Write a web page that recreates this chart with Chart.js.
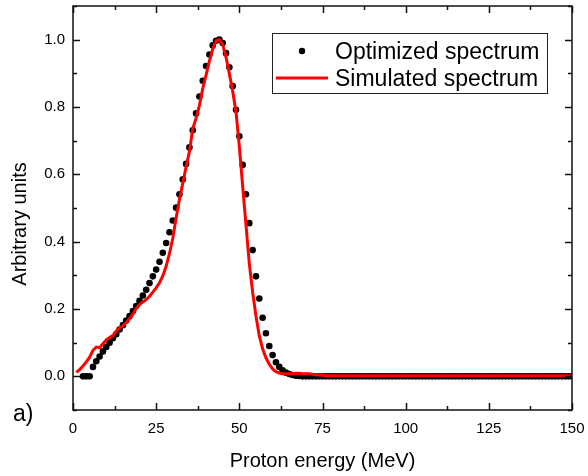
<!DOCTYPE html>
<html>
<head>
<meta charset="utf-8">
<script src="https://cdn.jsdelivr.net/npm/chart.js"></script>
<style>
  body { margin: 0; background: #fff; }
  canvas { display: block; }
</style>
</head>
<body>
<canvas id="chart" width="588" height="476"></canvas>
<script>
// optimized spectrum, one dot per MeV from 3 to 150
const optimizedEnergy = [
  3, 4, 5, 6, 7, 8, 9, 10, 11, 12, 13, 14, 15, 16, 17, 18, 19, 20,
  21, 22, 23, 24, 25, 26, 27, 28, 29, 30, 31, 32, 33, 34, 35, 36, 37, 38, 39, 40,
  41, 42, 43, 44, 45, 46, 47, 48, 49, 50, 51, 52, 53, 54, 55, 56, 57, 58, 59, 60,
  61, 62, 63, 64, 65, 66, 67, 68, 69, 70, 71, 72, 73, 74, 75, 76, 77, 78, 79, 80,
  81, 82, 83, 84, 85, 86, 87, 88, 89, 90, 91, 92, 93, 94, 95, 96, 97, 98, 99, 100,
  101, 102, 103, 104, 105, 106, 107, 108, 109, 110, 111, 112, 113, 114, 115, 116, 117, 118, 119, 120,
  121, 122, 123, 124, 125, 126, 127, 128, 129, 130, 131, 132, 133, 134, 135, 136, 137, 138, 139, 140,
  141, 142, 143, 144, 145, 146, 147, 148, 149, 150
];
const optimizedValues = [
  0, 0, 0, 0.028, 0.045, 0.059, 0.074, 0.087, 0.100, 0.113, 0.125, 0.139, 0.152, 0.166, 0.179, 0.194, 0.209, 0.224,
  0.240, 0.257, 0.277, 0.297, 0.317, 0.340, 0.367, 0.396, 0.428, 0.463, 0.501, 0.541, 0.585, 0.631, 0.680, 0.731, 0.781, 0.831, 0.878, 0.922,
  0.956, 0.983, 0.997, 1.000, 0.990, 0.960, 0.918, 0.862, 0.792, 0.713, 0.628, 0.541, 0.455, 0.375, 0.297, 0.231, 0.174, 0.128, 0.090, 0.063,
  0.042, 0.028, 0.018, 0.011, 0.007, 0.004, 0.002, 0.001, 0, 0, 0, 0, 0, 0, 0, 0, 0, 0, 0, 0,
  0, 0, 0, 0, 0, 0, 0, 0, 0, 0, 0, 0, 0, 0, 0, 0, 0, 0, 0, 0,
  0, 0, 0, 0, 0, 0, 0, 0, 0, 0, 0, 0, 0, 0, 0, 0, 0, 0, 0, 0,
  0, 0, 0, 0, 0, 0, 0, 0, 0, 0, 0, 0, 0, 0, 0, 0, 0, 0, 0, 0,
  0, 0, 0, 0, 0, 0, 0, 0, 0, 0
];

// simulated spectrum (red line)
const simulatedEnergy = [
  1, 2, 3, 4, 5, 6, 7, 8, 9, 10, 11, 12, 13, 14, 15, 16, 17, 18, 19, 20,
  21, 22, 23, 24, 25, 26, 27, 28, 29, 30, 31, 32, 33, 34, 35, 36, 37, 38, 39, 40,
  41, 42, 43, 44, 45, 46, 47, 48, 49, 50, 51, 52, 53, 54, 55, 56, 57, 58, 59, 60,
  61, 62, 63, 64, 65, 66, 67, 68, 69, 70, 71, 72, 73, 74, 75, 76, 77, 78, 79, 80,
  150
];
const simulatedValues = [
  0.012, 0.020, 0.031, 0.043, 0.057, 0.077, 0.087, 0.085, 0.097, 0.108, 0.115, 0.121, 0.135, 0.144, 0.150, 0.159, 0.171, 0.184, 0.202, 0.213,
  0.221, 0.228, 0.238, 0.250, 0.263, 0.278, 0.298, 0.327, 0.365, 0.410, 0.470, 0.525, 0.574, 0.622, 0.668, 0.735, 0.767, 0.805, 0.855, 0.895,
  0.936, 0.972, 0.996, 1.000, 0.985, 0.948, 0.899, 0.847, 0.785, 0.683, 0.565, 0.450, 0.335, 0.250, 0.179, 0.120, 0.082, 0.055, 0.036, 0.022,
  0.014, 0.010, 0.008, 0.008, 0.008, 0.008, 0.009, 0.009, 0.008, 0.008, 0.008, 0.006, 0.005, 0.004, 0.003, 0.002, 0.002, 0.002, 0.002, 0.002,
  0.002
];

const xTicks = [0, 25, 50, 75, 100, 125, 150];
const xMinorTicks = [12.5, 37.5, 62.5, 87.5, 112.5, 137.5];
const yTicks = [0.0, 0.2, 0.4, 0.6, 0.8, 1.0];
const yMinorTicks = [-0.1, 0.1, 0.3, 0.5, 0.7, 0.9, 1.1];

const FONT = "'Liberation Sans', Arial, sans-serif";

// box frame with inward ticks on all four sides, plus labels and legend
const framePlugin = {
  id: "frame",
  afterDraw(chart) {
    const { ctx, chartArea: a, scales: { x, y } } = chart;
    ctx.save();
    ctx.strokeStyle = "#111";
    ctx.lineWidth = 1.5;
    ctx.strokeRect(a.left, a.top, a.right - a.left, a.bottom - a.top);

    ctx.beginPath();
    const xMarks = (vals, len) => {
      vals.forEach((v) => {
        const px = Math.round(x.getPixelForValue(v)) + 0.5;
        ctx.moveTo(px, a.bottom); ctx.lineTo(px, a.bottom - len);
        ctx.moveTo(px, a.top); ctx.lineTo(px, a.top + len);
      });
    };
    const yMarks = (vals, len) => {
      vals.forEach((v) => {
        const py = Math.round(y.getPixelForValue(v)) + 0.5;
        ctx.moveTo(a.left, py); ctx.lineTo(a.left + len, py);
        ctx.moveTo(a.right, py); ctx.lineTo(a.right - len, py);
      });
    };
    xMarks(xTicks, 7);
    xMarks(xMinorTicks, 4);
    yMarks(yTicks, 7);
    yMarks(yMinorTicks, 4);
    ctx.stroke();

    // y axis title
    ctx.fillStyle = "#000";
    ctx.font = "20px " + FONT;
    ctx.textAlign = "center";
    ctx.textBaseline = "middle";
    ctx.translate(20.5, 224);
    ctx.rotate(-Math.PI / 2);
    ctx.fillText("Arbitrary units", 0, 0);
    ctx.setTransform(1, 0, 0, 1, 0, 0);

    // panel letter
    ctx.font = "23px " + FONT;
    ctx.textAlign = "left";
    ctx.textBaseline = "alphabetic";
    ctx.fillText("a)", 13, 421);

    // legend box
    ctx.lineWidth = 1;
    ctx.strokeStyle = "#222";
    ctx.strokeRect(272.5, 33.5, 275, 60);
    ctx.fillStyle = "#000";
    ctx.beginPath();
    ctx.arc(302, 51, 3.2, 0, Math.PI * 2);
    ctx.fill();
    ctx.strokeStyle = "#ff0000";
    ctx.lineWidth = 3;
    ctx.beginPath();
    ctx.moveTo(276, 78);
    ctx.lineTo(328, 78);
    ctx.stroke();
    ctx.fillStyle = "#000";
    ctx.font = "23px " + FONT;
    ctx.fillText("Optimized spectrum", 335, 58.5);
    ctx.fillText("Simulated spectrum", 335, 86);
    ctx.restore();
  },
};

const toPoints = (xs, ys) => xs.map((e, i) => ({ x: e, y: ys[i] }));

// keep the plot box fixed: no extra padding for tick label overflow
const noPad = (s) => {
  s.paddingLeft = 0; s.paddingRight = 0; s.paddingTop = 0; s.paddingBottom = 0;
};

new Chart(document.getElementById("chart"), {
  type: "scatter",
  data: {
    datasets: [
      {
        label: "Simulated spectrum",
        data: toPoints(simulatedEnergy, simulatedValues),
        showLine: true,
        borderColor: "#ff0000",
        borderWidth: 3,
        pointRadius: 0,
        tension: 0,
        order: 0,
      },
      {
        label: "Optimized spectrum",
        data: toPoints(optimizedEnergy, optimizedValues),
        backgroundColor: "#000",
        borderWidth: 0,
        pointRadius: 3.3,
        order: 1,
      },
    ],
  },
  options: {
    responsive: false,
    animation: false,
    layout: { padding: { left: 0, right: 16, top: 6, bottom: 0 } },
    plugins: { legend: { display: false }, tooltip: { enabled: false } },
    scales: {
      x: {
        type: "linear",
        min: 0,
        max: 150,
        afterBuildTicks(s) { s.ticks = xTicks.map((v) => ({ value: v })); },
        afterFit(s) { s.height = 66; noPad(s); },
        grid: { display: false, drawTicks: false },
        border: { display: false },
        ticks: {
          autoSkip: false,
          maxRotation: 0,
          padding: 10,
          color: "#000",
          font: { family: FONT, size: 15 },
          callback: (v) => String(v),
        },
        title: {
          display: true,
          text: "Proton energy (MeV)",
          color: "#000",
          font: { family: FONT, size: 20 },
          padding: { top: 0, bottom: 3 },
        },
      },
      y: {
        type: "linear",
        min: -0.1,
        max: 1.1,
        afterBuildTicks(s) { s.ticks = yTicks.map((v) => ({ value: v })); },
        afterFit(s) { s.width = 73; noPad(s); },
        grid: { display: false, drawTicks: false },
        border: { display: false },
        ticks: {
          autoSkip: false,
          padding: 8,
          color: "#000",
          font: { family: FONT, size: 15 },
          callback: (v) => Number(v).toFixed(1),
        },
      },
    },
  },
  plugins: [framePlugin],
});
</script>
</body>
</html>
